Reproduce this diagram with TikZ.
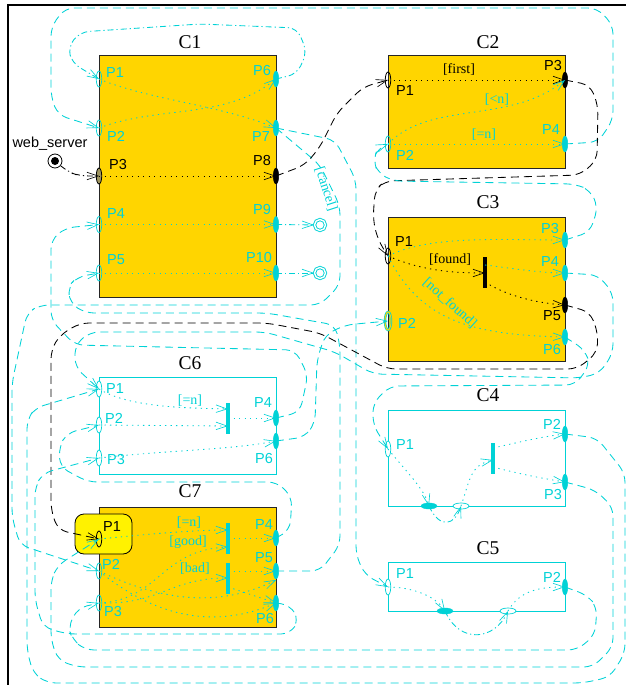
\documentclass[tikz,border=0pt]{standalone}
\usepackage{fontspec}
\setmainfont{Liberation Serif}
\newfontfamily\psans{Liberation Sans}
\usetikzlibrary{arrows.meta,shapes.geometric}
\definecolor{cy}{HTML}{00D2D6}
\definecolor{gd}{HTML}{FFD500}
\tikzset{
 x=1pt,y=-1pt,
 hd/.style={-{Straight Barb[length=11pt,width=7.5pt,line width=.65pt]}},
 ln/.style={line width=.85pt,rounded corners=9pt,hd},
 cd/.style={ln,draw=cy,dash pattern=on 8pt off 5pt},
 kd/.style={ln,draw=black,dash pattern=on 8pt off 5pt},
 cc/.style={ln,draw=cy,dash pattern=on 6pt off 3pt on 1.2pt off 3pt},
 kc/.style={ln,draw=black,dash pattern=on 6pt off 3pt on 1.2pt off 3pt},
 ct/.style={ln,draw=cy,dash pattern=on 1.3pt off 4.2pt},
 kt/.style={ln,draw=black,dash pattern=on 1.3pt off 4.2pt},
 goldbox/.style={draw=black!85,line width=1pt,fill=gd,inner sep=0pt},
 whitebox/.style={draw=cy,line width=1pt,inner sep=0pt},
 hollow/.style={ellipse,draw=cy,line width=.7pt,minimum width=5.5pt,minimum height=16pt,inner sep=0pt},
 hollowk/.style={ellipse,draw=black,line width=.8pt,minimum width=5.5pt,minimum height=16pt,inner sep=0pt},
 solid/.style={ellipse,draw=cy,fill=cy,minimum width=5.5pt,minimum height=16pt,inner sep=0pt},
 solidk/.style={ellipse,draw=black,fill=black,minimum width=5.5pt,minimum height=16pt,inner sep=0pt},
 hsolid/.style={ellipse,draw=cy,fill=cy,minimum width=16pt,minimum height=6pt,inner sep=0pt},
 hhollow/.style={ellipse,draw=cy,fill=white,line width=.7pt,minimum width=16pt,minimum height=6pt,inner sep=0pt},
 barc/.style={fill=cy,minimum width=3.5pt,inner sep=0pt},
 bark/.style={fill=black,minimum width=3.5pt,inner sep=0pt},
 title/.style={font=\fontsize{19.5}{20}\selectfont,text=black},
 pc/.style={font=\psans\fontsize{14.5}{15}\selectfont,text=cy,inner sep=0pt},
 pk/.style={font=\psans\fontsize{14.5}{15}\selectfont,text=black,inner sep=0pt},
 gc/.style={font=\fontsize{14}{14}\selectfont,text=cy,inner sep=0pt},
 gk/.style={font=\fontsize{14}{14}\selectfont,text=black,inner sep=0pt},
 finalst/.style={circle,draw=cy,double=white,double distance=1.4pt,line width=.9pt,minimum size=11pt,inner sep=0pt},
}
\begin{document}
\begin{tikzpicture}
\useasboundingbox (0,0) rectangle (626,685);
\coordinate (fa) at (8,685); \coordinate (fb) at (8,5); \coordinate (fc) at (626,5);
\draw[line width=2pt,line cap=rect] (fa)--(fb)--(fc);
% components
\node[goldbox,minimum width=177pt,minimum height=241pt] (C1) at (187.5,176.5) {};
\node[goldbox,minimum width=177pt,minimum height=112pt] (C2) at (476.5,112) {};
\node[goldbox,minimum width=177pt,minimum height=144pt] (C3) at (476.5,289) {};
\node[whitebox,minimum width=177pt,minimum height=97pt] (C6) at (187.5,425.5) {};
\node[goldbox,minimum width=177pt,minimum height=120pt] (C7) at (187.5,567) {};
\node[whitebox,minimum width=177pt,minimum height=96pt] (C4) at (476.5,458) {};
\node[whitebox,minimum width=177pt,minimum height=49pt] (C5) at (476.5,586.5) {};
\node[draw=black,line width=.8pt,fill=yellow,rounded corners=9pt,minimum width=57pt,minimum height=40pt,inner sep=0pt] (hl) at (103.5,534) {};
% titles
\node[title] (tC1) at (190,42) {C1};
\node[title] (tC2) at (488,42) {C2};
\node[title] (tC3) at (488,202) {C3};
\node[title] (tC4) at (488,395) {C4};
\node[title] (tC5) at (488,548) {C5};
\node[title] (tC6) at (190,363) {C6};
\node[title] (tC7) at (190,491) {C7};
% bars
\node[barc,minimum height=31pt] (b6) at (228,418) {};
\node[barc,minimum height=31pt] (b7a) at (228,538.5) {};
\node[barc,minimum height=31pt] (b7b) at (228,578.5) {};
\node[bark,minimum height=31pt] (b3) at (485,272.5) {};
\node[barc,minimum height=31pt] (b4) at (493,458) {};
\coordinate (b6i) at (228,409); \coordinate (b6j) at (228,426); \coordinate (b6o) at (228,418);
\coordinate (b7i) at (228,530); \coordinate (b7j) at (228,547); \coordinate (b7o) at (228,538);
\coordinate (b7k) at (228,578); \coordinate (b7p) at (228,571); \coordinate (b7q) at (228,587);
\coordinate (b3i) at (485,273); \coordinate (b3o) at (485,265); \coordinate (b3p) at (485,282);
\coordinate (b4i) at (493,460); \coordinate (b4o) at (493,448); \coordinate (b4p) at (493,467);
% ports
\node[hollow] (c1p1) at (99,79) {};
\node[hollow] (c1p2) at (99,128) {};
\node[hollowk,fill=gray!75!gd] (c1p3) at (99,176) {};
\node[hollow] (c1p4) at (99,224.5) {};
\node[hollow] (c1p5) at (99,273) {};
\node[solid] (c1p6) at (276,79) {};
\node[solid] (c1p7) at (276,128) {};
\node[solidk] (c1p8) at (276,176) {};
\node[solid] (c1p9) at (276,224.5) {};
\node[solid] (c1p10) at (276,273) {};
\node[hollowk] (c2p1) at (388,80) {};
\node[hollow] (c2p2) at (388,144) {};
\node[solidk] (c2p3) at (565,80) {};
\node[solid] (c2p4) at (565,144) {};
\node[hollowk] (c3p1) at (388,256) {};
\node[hollow,double=gd,double distance=1pt,minimum width=6pt,minimum height=18pt] (c3p2) at (388,321) {};
\node[solid] (c3p3) at (565,240) {};
\node[solid] (c3p4) at (565,273) {};
\node[solidk] (c3p5) at (565,305) {};
\node[solid] (c3p6) at (565,337) {};
\node[hollow,fill=white] (c6p1) at (99,389) {};
\node[hollow,fill=white] (c6p2) at (99,425) {};
\node[hollow,fill=white] (c6p3) at (99,458) {};
\node[solid] (c6p4) at (276,418) {};
\node[solid] (c6p6) at (276,441) {};
\node[hollowk] (c7p1) at (99,539) {};
\node[hollow] (c7p2) at (99,571) {};
\node[hollow] (c7p3) at (99,603) {};
\node[solid] (c7p4) at (276,538) {};
\node[solid] (c7p5) at (276,571) {};
\node[solid] (c7p6) at (276,603) {};
\node[hollow,fill=white] (c4p1) at (388,449) {};
\node[solid] (c4p2) at (565,434) {};
\node[solid] (c4p3) at (565,482) {};
\node[hsolid] (c4a) at (429,506) {};
\node[hhollow] (c4b) at (461,506) {};
\node[hollow,fill=white] (c5p1) at (388,587) {};
\node[solid] (c5p2) at (565,587) {};
\node[hsolid] (c5a) at (445,611) {};
\node[hhollow] (c5b) at (508,611) {};
% initial + final
\node[circle,draw=black,line width=.8pt,minimum size=14pt,inner sep=0pt] (ws) at (55,161) {};
\node[circle,fill=black,minimum size=8pt,inner sep=0pt] (wsd) at (55,161) {};
\node[finalst] (e1) at (320,225) {};
\node[finalst] (e2) at (320,273) {};
% inter-component connectors
\draw[kc] (ws) -- (68,172) -- (80,176) -- (c1p3.center);
\draw[cc] (c1p6.center) -- (297,74) -- (307,52) -- (297,28) -- (200,24) -- (80,32) -- (68,47) -- (72,63) -- (c1p1.center);
\draw[cd] (c2p4.center) -- (598,142) -- (613,120) -- (613,25) -- (597,8) -- (65,8) -- (51,27) -- (51,97) -- (58,115) -- (c1p2.center);
\draw[cd] (c1p7.center) -- (335,140) -- (356,180) -- (356,555) -- (365,575) -- (c5p1.center);
\draw[cd] (c1p7.center) -- (320,165) -- (340,206) -- (340,285) -- (320,305) -- (40,305) -- (27,313) -- (12,383) -- (12,517) -- (20,545) -- (c7p2.center);
\draw[cd] (c6p4.center) -- (300,412) -- (308,375) -- (295,350) -- (75,345) -- (51,320) -- (51,240) -- (65,228) -- (c1p4.center);
\draw[cd] (c3p4.center) -- (598,275) -- (613,293) -- (613,353) -- (600,373) -- (580,378) -- (373,374) -- (335,352) -- (265,332) -- (90,332) -- (75,345) -- (75,367) -- (c6p1.center);
\draw[cd] (c3p6.center) -- (585,350) -- (590,365) -- (575,385) -- (390,386) -- (373,403) -- (373,425) -- (c4p1.center);
\draw[kd] (c3p5.center) -- (590,312) -- (598,333) -- (597,353) -- (577,369) -- (387,369) -- (320,333) -- (267,323) -- (80,323) -- (60,335) -- (51,350) -- (51,510) -- (58,530) -- (c7p1.center);
\draw[kd] (c2p3.center) -- (590,85) -- (598,105) -- (597,160) -- (580,175) -- (385,181) -- (375,190) -- (373,220) -- (378,240) -- (c3p1.center);
\draw[kd] (c1p8.center) -- (305,165) -- (320,147) -- (337,113) -- (363,87) -- (c2p1.center);
\draw[cd] (c3p3.center) -- (590,232) -- (598,207) -- (590,190) -- (575,184) -- (393,181) -- (378,173) -- (373,160) -- (378,148) -- (c2p2.center);
\draw[cd] (c6p6.center) -- (305,437) -- (315,423) -- (317,360) -- (325,335) -- (345,325) -- (c3p2.center);
\draw[cd] (c7p5.center) -- (320,571) -- (340,545) -- (340,345) -- (335,325) -- (267,313) -- (85,313) -- (70,303) -- (68,287) -- (77,277) -- (c1p5.center);
\draw[cd] (c7p4.center) -- (290,530) -- (292,497) -- (277,482) -- (88,482) -- (60,467) -- (59,447) -- (67,433) -- (c6p2.center);
\draw[cd] (c7p6.center) -- (290,605) -- (299,620) -- (290,634) -- (67,634) -- (43,627) -- (35,600) -- (35,487) -- (43,473) -- (c6p3.center);
\draw[cd] (c5p2.center) -- (587,595) -- (597,607) -- (595,635) -- (577,650) -- (85,650) -- (73,640) -- (68,627) -- (78,608) -- (c7p3.center);
\draw[cd] (c4p3.center) -- (595,490) -- (613,507) -- (613,647) -- (593,667) -- (77,667) -- (58,660) -- (51,640) -- (51,580) -- (58,565) -- (c7p1.center);
\draw[cd] (c4p2.center) -- (597,438) -- (625,473) -- (625,653) -- (610,677) -- (583,683) -- (47,683) -- (33,673) -- (27,650) -- (27,420) -- (35,408) -- (c6p1.center);
% end states
\draw[cc] (c1p9.center) -- (e1);
\draw[cc] (c1p10.center) -- (e2);
% intra
\tikzset{ln/.append style={rounded corners=0pt}}
\draw[ct] (c1p1.center) .. controls (150,100) and (220,105) .. (c1p7.center);
\draw[ct] (c1p2.center) .. controls (160,105) and (225,120) .. (c1p6.center);
\draw[kt] (c1p3.center) -- (c1p8.center);
\draw[ct] (c1p4.center) -- (c1p9.center);
\draw[ct] (c1p5.center) -- (c1p10.center);
\draw[kt] (c2p1.center) -- (c2p3.center);
\draw[ct] (c2p2.center) .. controls (430,100) and (510,125) .. (c2p3.center);
\draw[ct] (c2p2.center) -- (c2p4.center);
\draw[ct] (c3p1.center) .. controls (430,235) and (500,240) .. (c3p3.center);
\draw[kt] (c3p1.center) .. controls (420,270) and (450,273) .. (b3i);
\draw[ct] (b3o) .. controls (510,268) and (540,273) .. (c3p4.center);
\draw[kt] (b3p) .. controls (505,295) and (535,303) .. (c3p5.center);
\draw[ct] (c3p1.center) .. controls (420,320) and (470,335) .. (c3p6.center);
\draw[ct] (c6p1.center) .. controls (130,408) and (190,408) .. (b6i);
\draw[ct] (c6p2.center) -- (b6j);
\draw[ct] (b6o) -- (c6p4.center);
\draw[ct] (c6p3.center) .. controls (170,450) and (230,450) .. (c6p6.center);
\draw[ct] (c7p1.center) .. controls (140,535) and (190,530) .. (b7i);
\draw[ct] (c7p3.center) .. controls (160,600) and (160,550) .. (b7j);
\draw[ct] (c7p3.center) .. controls (160,605) and (170,578) .. (b7k);
\draw[ct] (b7o) -- (c7p4.center);
\draw[ct] (b7p) -- (c7p5.center);
\draw[ct] (b7q) -- (c7p6.center);
\coordinate (p5low) at (276,580);
\draw[ct] (c7p2.center) .. controls (170,605) and (225,605) .. (p5low);
\draw[ct] (c7p2.center) .. controls (165,625) and (225,625) .. (c7p6.center);
\draw[ct] (c4p1.center) .. controls (405,470) and (425,490) .. (c4a.center);
\draw[cc] (c4a.center) .. controls (440,530) and (455,525) .. (c4b.center);
\draw[ct] (c4b.center) .. controls (470,480) and (470,465) .. (b4i);
\draw[ct] (b4o) .. controls (520,442) and (540,437) .. (c4p2.center);
\draw[ct] (b4p) .. controls (520,474) and (540,478) .. (c4p3.center);
\draw[ct] (c5p1.center) .. controls (410,587) and (435,595) .. (c5a.center);
\draw[cc] (c5a.center) .. controls (460,645) and (495,640) .. (c5b.center);
\draw[ct] (c5b.center) .. controls (520,590) and (540,587) .. (c5p2.center);
% port labels
\node[pc] (l1) at (115,73) {P1}; \node[pc] (l2) at (116,136) {P2}; \node[pk] (l3) at (118,165) {P3};
\node[pc] (l4) at (116,214) {P4}; \node[pc] (l5) at (116,260) {P5}; \node[pc] (l6) at (262,71) {P6};
\node[pc] (l7) at (261,137) {P7}; \node[pk] (l8) at (262,161) {P8}; \node[pc] (l9) at (262,210) {P9};
\node[pc] (l10) at (259,258) {P10};
\node[pk] (m1) at (405,91) {P1}; \node[pc] (m2) at (405,155) {P2}; \node[pk] (m3) at (553,66) {P3}; \node[pc] (m4) at (551,130) {P4};
\node[pk] (n1) at (404,242) {P1}; \node[pc] (n2) at (407,323) {P2}; \node[pc] (n3) at (550,229) {P3};
\node[pc] (n4) at (550,262) {P4}; \node[pk] (n5) at (552,316) {P5}; \node[pc] (n6) at (552,350) {P6};
\node[pc] (q1) at (115,389) {P1}; \node[pc] (q2) at (114,418) {P2}; \node[pc] (q3) at (116,460) {P3};
\node[pc] (q4) at (263,403) {P4}; \node[pc] (q6) at (264,459) {P6};
\node[pk] (r1) at (112,527) {P1}; \node[pc] (r2) at (111,564) {P2}; \node[pc] (r3) at (113,612) {P3};
\node[pc] (r4) at (264,525) {P4}; \node[pc] (r5) at (264,558) {P5}; \node[pc] (r6) at (265,619) {P6};
\node[pc] (s1) at (405,445) {P1}; \node[pc] (s2) at (552,424) {P2}; \node[pc] (s3) at (553,495) {P3};
\node[pc] (t1) at (405,574) {P1}; \node[pc] (t2) at (552,577) {P2};
% guards
\node[gk] (g1) at (459,70) {[first]};
\node[gc] (g2) at (497,100) {[<n]};
\node[gc] (g3) at (484,135) {[=n]};
\node[gc,rotate=-72] (g4) at (326,189) {[cancel]};
\node[gk] (g5) at (450,260) {[found]};
\node[gc,rotate=-42] (g6) at (450,303) {[not\_found]};
\node[gc] (g7) at (190,401) {[=n]};
\node[gc] (g8) at (189,523) {[=n]};
\node[gc] (g9) at (188,542) {[good]};
\node[gc] (g10) at (195,569) {[bad]};
\node[pk] (wl) at (50,144) {web\_server};
\end{tikzpicture}
\end{document}
